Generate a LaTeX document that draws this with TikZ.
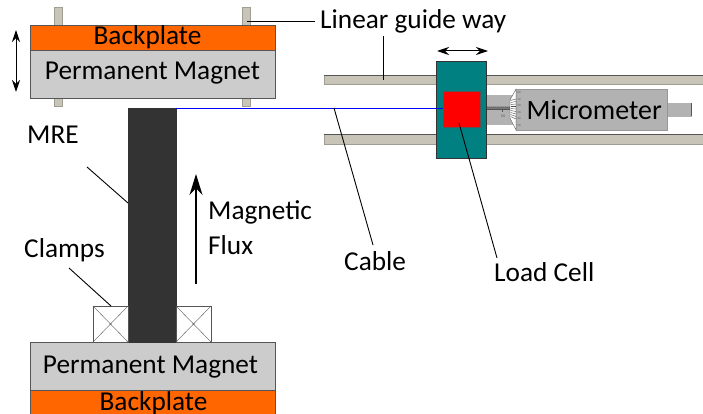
\documentclass[tikz,border=0pt]{standalone}
\usepackage{fontspec}
\setmainfont{Carlito}
\usetikzlibrary{arrows.meta, positioning}
\definecolor{plateorange}{HTML}{FF6600}
\definecolor{magnetgray}{HTML}{CCCCCC}
\definecolor{railtan}{HTML}{C8C4B7}
\definecolor{sledteal}{HTML}{008080}
\definecolor{micgray}{HTML}{B2B2B2}
\definecolor{edgegray}{HTML}{555555}
\definecolor{mredark}{HTML}{333333}
\tikzset{
  block/.style={draw=edgegray, thick, rectangle, inner sep=0pt, outer sep=0pt, anchor=north west},
  guide/.style={block, fill=railtan, draw=railtan!80!black, thin},
  label/.style={font=\fontsize{27.3}{35}\selectfont, align=left, inner sep=0pt},
  leader/.style={draw=black, line width=0.9pt},
  twoway/.style={{Stealth[length=12pt,width=8pt]}-{Stealth[length=12pt,width=8pt]}, line width=1pt}
}
\begin{document}
\begin{tikzpicture}[x=1pt, y=-1pt]
\useasboundingbox (0,0) rectangle (703,414);
% guide pins of the upper magnet
\node (PinA) [guide, minimum width=8pt, minimum height=18pt] at (54,7) {};
\node (PinB) [guide, minimum width=8pt, minimum height=18pt] at (242,7) {};
\node (PinC) [guide, minimum width=8pt, minimum height=8pt] at (54,98) {};
\node (PinD) [guide, minimum width=8pt, minimum height=8pt] at (242,98) {};
% upper magnet
\node (TopPlate) [block, fill=plateorange, minimum width=245pt, minimum height=25pt] at (30,25) {};
\node (TopMagnet) [block, fill=magnetgray, minimum width=245pt, minimum height=48pt] at (30,50) {};
\node (TopPlateText) [label] at (147.5,37.5) {Backplate};
\node (TopMagnetText) [label] at (152.5,73) {Permanent Magnet};
% lower magnet
\node (BotMagnet) [block, fill=magnetgray, minimum width=245pt, minimum height=48pt] at (30,342) {};
\node (BotPlate) [block, fill=plateorange, minimum width=245pt, minimum height=24pt] at (30,390) {};
\node (BotMagnetText) [label] at (150.5,367) {Permanent Magnet};
\node (BotPlateText) [label] at (153.5,403) {Backplate};
% sample and clamps
\node (MRE) [block, fill=mredark, draw=mredark, minimum width=48pt, minimum height=234pt] at (128,108) {};
\node (ClampL) [block, fill=white, thin, minimum width=35pt, minimum height=36pt] at (93,306) {};
\node (ClampR) [block, fill=white, thin, minimum width=35pt, minimum height=36pt] at (176,306) {};
\draw[edgegray] (ClampL.north west) -- (ClampL.south east) (ClampL.north east) -- (ClampL.south west);
\draw[edgegray] (ClampR.north west) -- (ClampR.south east) (ClampR.north east) -- (ClampR.south west);
% rails
\node (RailTop) [guide, minimum width=379pt, minimum height=9pt] at (324,75) {};
\node (RailBot) [guide, minimum width=379pt, minimum height=10pt] at (324,134) {};
\draw[edgegray, thick] (RailTop.north west) -- (RailTop.north east);
\draw[edgegray, thick] (RailBot.north west) -- (RailBot.north east);
% micrometer
\node (Tip) [block, fill=micgray, draw=micgray, minimum width=25pt, minimum height=13pt] at (666,103) {};
\node (Barrel) [block, fill=micgray, draw=micgray, minimum width=36pt, minimum height=29pt] at (480,95) {};
\node (Body) [block, fill=micgray, draw=micgray!85!black, thin, minimum width=151pt, minimum height=41pt] at (516,89) {};
\node (MicText) [label, anchor=west, font=\fontsize{28}{35}\selectfont] at (526.5,110) {Micrometer};
\draw[edgegray, thick] (Tip.north east) -- (Tip.south east);
\draw[fill=white, draw=edgegray] (Body.north west) -- (Body.south west) -- (510,118) -- (510,100) -- cycle;
\foreach \i in {0,...,8} {
  \draw[black!70, thin] (510.5,{100.5+\i*2}) -- (516,{99+\i*2.5});
}
\foreach \i in {0,...,5} {
  \node (Tick\i) [inner sep=0pt, text=edgegray, font=\fontsize{3}{3}\selectfont] at (519,{93+\i*6.5}) {\i0};
}
\draw[edgegray, very thin] (483,109) -- (510,109);
\draw[black, very thin] (486,109) \foreach \i in {0,...,11} { -- ++(1,-2.5) -- ++(1,2.5) };
\draw[edgegray, very thin] (484,109) -- (484,112) (502,109) -- (502,112);
\node (ScaleA) [inner sep=0pt, text=edgegray, font=\fontsize{4}{4}\selectfont] at (485,116) {0};
\node (ScaleB) [inner sep=0pt, text=edgegray, font=\fontsize{4}{4}\selectfont] at (503,116) {50};
% sled
\node (Sled) [block, fill=sledteal, draw=mredark, minimum width=50pt, minimum height=97pt] at (436,61) {};
\node (LoadCell) [block, fill=red, draw=edgegray, minimum width=37pt, minimum height=36pt] at (443,91) {};
% cable
\coordinate (CableEnd) at (176,108.5);
\draw[blue, thick] (CableEnd) -- (LoadCell.west |- CableEnd);
% labels
\node (GuideText) [label, anchor=west] at (320,21) {Linear guide way};
\node (MREText) [label, anchor=west] at (27,135) {MRE};
\node (ClampText) [label, anchor=west] at (24,250) {Clamps};
\node (FluxText) [label, anchor=west] at (208,228) {Magnetic\\Flux};
\node (CableText) [label, anchor=west] at (344,261) {Cable};
\node (LoadText) [label, anchor=west] at (494,272) {Load Cell};
% leaders
\coordinate (GuideTip) at (247,21);
\coordinate (RailTip) at (383,80);
\coordinate (RailEnd) at (383,36);
\coordinate (CableTip) at (334,108);
\coordinate (CableEndB) at (373,245);
\coordinate (LoadTip) at (459,123);
\coordinate (LoadEnd) at (497,258);
\coordinate (MRETip) at (128,203);
\coordinate (MREEnd) at (87,167);
\coordinate (ClampTip) at (111,306);
\coordinate (ClampEnd) at (69,268);
\draw[leader, shorten >=5pt] (GuideTip) -- (GuideText.west);
\draw[leader] (RailTip) -- (RailEnd);
\draw[leader] (CableTip) -- (CableEndB);
\draw[leader] (LoadTip) -- (LoadEnd);
\draw[leader] (MRETip) -- (MREEnd);
\draw[leader] (ClampTip) -- (ClampEnd);
% arrows
\coordinate (FluxA) at (196,284);
\coordinate (FluxB) at (196,174);
\draw[-{Stealth[length=21pt,width=13pt]}, line width=1.2pt] (FluxA) -- (FluxB);
\coordinate (LiftA) at (16,30);
\coordinate (LiftB) at (16,92);
\draw[twoway] (LiftA) -- (LiftB);
\coordinate (SledA) at (437,51);
\coordinate (SledB) at (488,51);
\draw[twoway] (SledA) -- (SledB);
\end{tikzpicture}
\end{document}
